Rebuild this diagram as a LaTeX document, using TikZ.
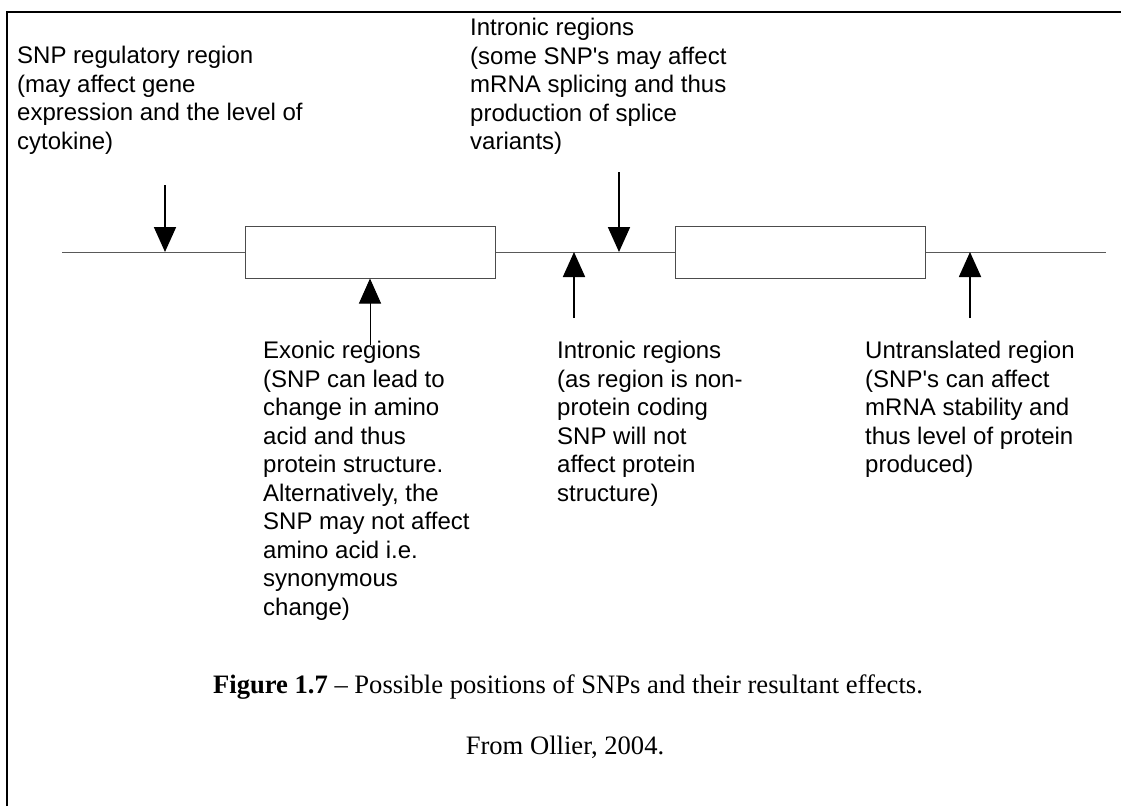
\documentclass[tikz,border=0pt]{standalone}
\usepackage{fontspec}
\setmainfont{Liberation Serif}
\newfontfamily\lab{Liberation Sans}
\usetikzlibrary{arrows.meta}
\begin{document}
\begin{tikzpicture}[x=1pt,y=-1pt,
  lbl/.style={anchor=north west, inner sep=0pt, align=left, font=\lab\fontsize{24}{28.5}\selectfont},
  arr/.style={-{Triangle[width=22pt,length=25pt]}, line width=1.8pt},
  exon/.style={draw=black!70, line width=1pt, fill=white, minimum width=250pt, minimum height=52pt, inner sep=0pt},
  gene/.style={draw=black!65, line width=1pt},
  frame/.style={draw=black, line width=1.5pt},
  captext/.style={inner sep=0pt, font=\fontsize{26.6}{30}\selectfont}]
\useasboundingbox (0,0) rectangle (1121,806);
% frame
\coordinate (fb) at (7,806);
\coordinate (fc) at (7,12);
\coordinate (fr) at (1121,12);
\draw[frame] (fb) -- (fc) -- (fr);
% gene
\coordinate (gL) at (62,252);
\coordinate (gR) at (1106,252);
\node[exon] (ex1) at (370,252) {};
\node[exon] (ex2) at (800,252) {};
\draw[gene] (gL) -- (ex1.west);
\draw[gene] (ex1.east) -- (ex2.west);
\draw[gene] (ex2.east) -- (gR);
% labels
\node[lbl] (t1) at (17,46) {SNP regulatory region\\(may affect gene\\expression and the level of\\cytokine)};
\node[lbl] (t2) at (470,18) {Intronic regions\\(some SNP's may affect\\mRNA splicing and thus\\production of splice\\variants)};
\node[lbl] (t3) at (263,341) {Exonic regions\\(SNP can lead to\\change in amino\\acid and thus\\protein structure.\\Alternatively, the\\SNP may not affect\\amino acid i.e.\\synonymous\\change)};
\node[lbl] (t4) at (557,341) {Intronic regions\\(as region is non-\\protein coding\\SNP will not\\affect protein\\structure)};
\node[lbl] (t5) at (865,341) {Untranslated region\\(SNP's can affect\\mRNA stability and\\thus level of protein\\produced)};
% arrows
\coordinate (a1s) at (165,185); \coordinate (a1e) at (165,252);
\coordinate (a2s) at (619,172); \coordinate (a2e) at (619,252);
\coordinate (a3s) at (370,345);
\coordinate (a4s) at (574,318); \coordinate (a4e) at (574,252);
\coordinate (a5s) at (970,318); \coordinate (a5e) at (970,252);
\draw[arr] (a1s) -- (a1e);
\draw[arr] (a2s) -- (a2e);
\draw[arr, line width=1pt] (a3s) -- (ex1.south);
\draw[arr] (a4s) -- (a4e);
\draw[arr] (a5s) -- (a5e);
% caption
\node[captext] (c1) at (568,687) {\textbf{Figure 1.7} -- Possible positions of SNPs and their resultant effects.};
\node[captext] (c2) at (565,747) {From Ollier, 2004.};
\end{tikzpicture}
\end{document}
